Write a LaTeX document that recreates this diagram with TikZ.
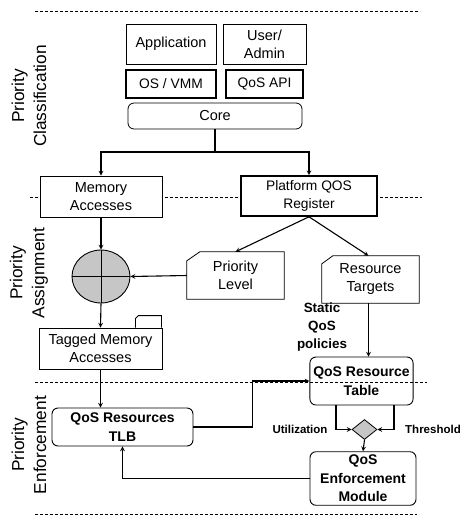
\documentclass[tikz,border=0pt]{standalone}
\usepackage{fontspec}
\setmainfont{Liberation Sans}
\usetikzlibrary{arrows}
\usetikzlibrary{shapes}
\tikzstyle{layer} = [rectangle, draw=black, fill=white, line width=0.8pt, text centered, align=center, font=\fontsize{14.5}{18}\selectfont]
\tikzstyle{sysbox} = [rectangle, draw=black, fill=white, line width=1.6pt, text centered, align=center, font=\fontsize{13.8}{18}\selectfont]
\tikzstyle{unit} = [rectangle, rounded corners=6pt, draw=black, line width=0.9pt, text centered, align=center, font=\bfseries\fontsize{14}{18.5}\selectfont]
\tikzstyle{store} = [rectangle, text centered, align=center, font=\fontsize{14.5}{18}\selectfont]
\tikzstyle{phase} = [rotate=90, align=center, font=\fontsize{17.3}{22}\selectfont]
\tikzstyle{hint} = [align=center, font=\bfseries\fontsize{13.4}{18}\selectfont]
\tikzstyle{divider} = [dashed, line width=0.8pt, dash pattern=on 3pt off 2pt]
\tikzstyle{arrow} = [line width=1.1pt,->,>=stealth]

\begin{document}
\begin{tikzpicture}[x=1pt, y=-1pt]
\useasboundingbox (0,0) rectangle (465,515);

% layer dividers
\draw [divider] (35,11) -- (420,11);
\draw [divider] (30,197) -- (422,197);
\draw [divider] (35,382) -- (427,382);
\draw [divider] (35,514) -- (417,514);

% phase names
\node [phase] (classify) at (29,96) {Priority\\Classification};
\node [phase] (assign) at (29,273) {Priority\\Assignment};
\node [phase] (enforce) at (29,445) {Priority\\Enforcement};

% classification
\node [layer, minimum width=90, minimum height=40] (app) at (171,44) {Application};
\node [layer, minimum width=83, minimum height=40] (user) at (264.5,44) {User/\\Admin};
\node [sysbox, minimum width=90, minimum height=28] (os) at (171,84) {OS / VMM};
\node [sysbox, minimum width=77, minimum height=28] (qosapi) at (264.5,84) {QoS API};
\node [layer, rounded corners=6pt, minimum width=174, minimum height=26] (core) at (215,116) {Core};
\coordinate (split) at (215,152);

% assignment
\node [layer, minimum width=122, minimum height=41] (mem) at (101,196.5) {Memory\\Accesses};
\node [sysbox, minimum width=136, minimum height=40] (pqos) at (309,196) {Platform QOS\\Register};
\node [ellipse, draw=black, fill=gray!45, line width=0.9pt, minimum width=58, minimum height=53] (mix) at (101,276.5) {};
\node [store, minimum width=97, minimum height=47] (plevel) at (235.5,275.5) {Priority\\Level};
\node [store, minimum width=97, minimum height=47] (rtarget) at (370.5,279.5) {Resource\\Targets};
\node [layer, minimum width=123, minimum height=41] (tagged) at (100.5,348.5) {Tagged Memory\\Accesses};
\node [hint] (static) at (322,327) {Static\\QoS\\policies};

\draw [line width=0.8pt] ([xshift=13]plevel.north west) -- (plevel.north east) -- (plevel.south east) -- (plevel.south west) -- ([yshift=-9]plevel.north west) -- cycle;
\draw [line width=0.8pt] ([xshift=11]rtarget.north west) -- (rtarget.north east) -- (rtarget.south east) -- (rtarget.south west) -- ([yshift=-8]rtarget.north west) -- cycle;
\draw [line width=0.8pt] ([xshift=-27]tagged.north east) -- ++(0,-9) -- ++(3,-3) -- ++(23,0) -- ([xshift=-1]tagged.north east);
\draw [line width=0.9pt] (mix.north) -- (mix.south) (mix.west) -- (mix.east);

% enforcement
\node [unit, minimum width=103, minimum height=48] (rtable) at (361.5,381) {QoS Resource\\Table};
\node [unit, fill=white, minimum width=141, minimum height=38] (tlb) at (122.5,427) {QoS Resources\\TLB};
\node [diamond, draw=black, fill=gray!45, line width=0.8pt, inner sep=0pt, minimum width=25, minimum height=20] (check) at (364.5,429.5) {};
\node [unit, fill=white, minimum width=106, minimum height=53] (enf) at (363,478.5) {QoS\\Enforcement\\Module};
\node [hint, font=\bfseries\fontsize{11.5}{14}\selectfont] (util) at (300,429) {Utilization};
\node [hint, font=\bfseries\fontsize{11.5}{14}\selectfont] (thresh) at (433,429) {Threshold};

\draw [arrow] (core.south) -- (split) -| (mem.north);
\draw [arrow] (split) -| (pqos.north);
\draw [arrow] (mem.south) -- (mix.north);
\draw [arrow] (pqos.south) -- (plevel.north);
\draw [arrow] (pqos.south) -- ([xshift=-2]rtarget.north);
\draw [arrow] (plevel.west) -- (mix.east);
\draw [arrow] (mix.south) -- (tagged.north);
\draw [arrow] ([xshift=-2]rtarget.south) -- ([xshift=-2]rtarget.south |- rtable.north);
\draw [arrow] (tagged.south) -- (tagged.south |- tlb.north);
\draw [arrow] (tlb.east) -- ++(59,0) |- (rtable.west);
\draw [arrow] ([xshift=-25.5]rtable.south) |- (check.west);
\draw [arrow] ([xshift=32.5]rtable.south) |- (check.east);
\draw [arrow] (check.south) -- (enf.north);
\draw [arrow] (enf.west) -| (tlb.south);

\end{tikzpicture}
\end{document}
